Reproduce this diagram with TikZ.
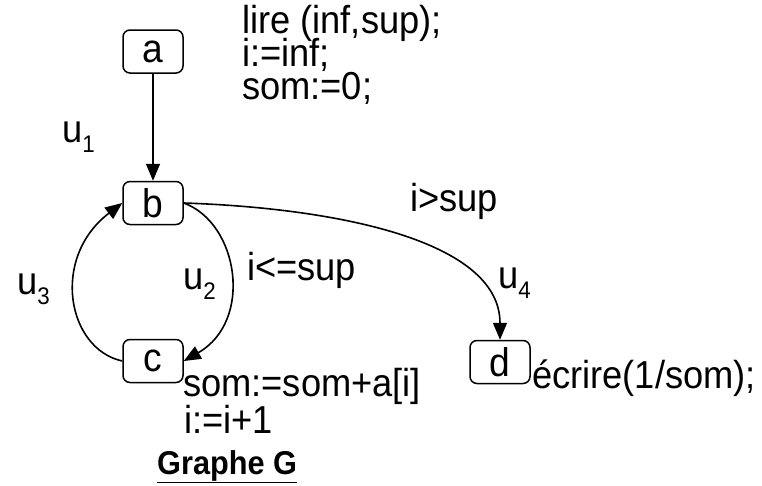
\documentclass[tikz,border=0pt]{standalone}
\usepackage{fontspec}
\setmainfont{Liberation Sans}[FakeStretch=0.93]
\usetikzlibrary{arrows.meta}
\tikzset{
  etat/.style={draw, rounded corners=7pt, line width=1.5pt,
    minimum width=60pt, minimum height=43pt, inner sep=0pt,
    font=\fontsize{40}{40}\selectfont},
  fleche/.style={-{Triangle[length=17pt,width=14pt]}, line width=1.6pt},
  instr/.style={anchor=base west, inner sep=0pt,
    font=\fontsize{39}{39}\selectfont},
}
\newcommand{\arcu}[1]{u\raisebox{-10pt}{\fontsize{24}{24}\selectfont #1}}

\begin{document}
\begin{tikzpicture}[x=1pt, y=-1pt]
  \useasboundingbox (0,0) rectangle (762,485);

  % sommets du graphe
  \node[etat] (a) at (153,51.5) {a};
  \node[etat] (b) at (153,203) {b};
  \node[etat] (c) at (153,361) {c};
  \node[etat] (d) at (500,362) {d};

  % arcs
  \draw[fleche] (a) -- (b);
  \draw[fleche] (b.east) .. controls +(55,20) and +(70,-40) .. (c.east);
  \draw[fleche] (c.west) .. controls +(-55,-12) and +(-72,55) .. (b.west);
  \draw[fleche] (b.east) .. controls +(150,5) and +(0,-100) .. (d.north);

  % noms des arcs
  \node[instr] (u1) at (62,142) {\arcu{1}};
  \node[instr] (u2) at (183,289) {\arcu{2}};
  \node[instr] (u3) at (17,294) {\arcu{3}};
  \node[instr] (u4) at (498,288) {\arcu{4}};

  % conditions
  \node[instr] (cond2) at (247,280) {i<=sup};
  \node[instr] (cond4) at (410,211) {i>sup};

  % instructions
  \node[instr] (lire) at (242,33) {lire (inf,sup);};
  \node[instr] (init) at (242,66) {i:=inf;};
  \node[instr] (som0) at (242,99) {som:=0;};
  \node[instr] (corps1) at (183,396) {som:=som+a[i]};
  \node[instr] (corps2) at (184,433) {i:=i+1};
  \node[instr] (ecr) at (532,388) {écrire(1/som);};

  % titre
  \node[instr, font=\bfseries\fontsize{33}{33}\selectfont] (titre)
    at (157,474) {\underline{Graphe G}};
\end{tikzpicture}
\end{document}
